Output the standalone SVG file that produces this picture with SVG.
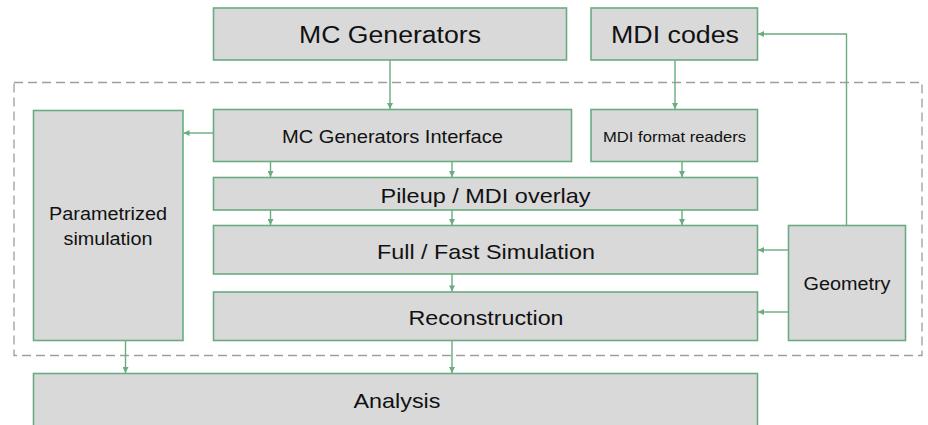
<svg xmlns="http://www.w3.org/2000/svg" width="928" height="425" viewBox="0 0 928 425">
<defs>
<marker id="ah" viewBox="0 0 10 10" refX="10" refY="5" markerWidth="7" markerHeight="6" markerUnits="userSpaceOnUse" orient="auto">
<path d="M0,0 L10,5 L0,10 z" fill="#6aab80"/>
</marker>
<style>
.box{fill:#d9d9d9;stroke:#6aab80;stroke-width:1.6}
.t{font-family:"Liberation Sans",Arial,sans-serif;fill:#111;text-anchor:middle}
.c{fill:none;stroke:#6aab80;stroke-width:1.4;marker-end:url(#ah)}
.l{fill:none;stroke:#6aab80;stroke-width:1.4}
</style>
</defs>
<rect width="928" height="425" fill="#fff"/>
<rect x="14" y="82.5" width="908" height="273" fill="none" stroke="#9e9e9e" stroke-width="1.3" stroke-dasharray="9,5"/>
<g id="mcgen"><rect class="box" x="213.5" y="8" width="353" height="52"/><text class="t" x="390" y="43" font-size="23" textLength="182" lengthAdjust="spacingAndGlyphs">MC Generators</text></g>
<g id="mdicodes"><rect class="box" x="591" y="8" width="166.5" height="52"/><text class="t" x="675" y="43" font-size="23" textLength="128" lengthAdjust="spacingAndGlyphs">MDI codes</text></g>
<g id="param"><rect class="box" x="33.5" y="110.5" width="149.5" height="230"/><text class="t" x="108" y="220" font-size="17.5" textLength="118" lengthAdjust="spacingAndGlyphs">Parametrized</text><text class="t" x="108" y="245" font-size="17.5" textLength="89" lengthAdjust="spacingAndGlyphs">simulation</text></g>
<g id="mcgi"><rect class="box" x="213.5" y="109.5" width="358" height="52"/><text class="t" x="392.5" y="142.5" font-size="18.5" textLength="221" lengthAdjust="spacingAndGlyphs">MC Generators Interface</text></g>
<g id="mdireaders"><rect class="box" x="591" y="109.5" width="166.5" height="52"/><text class="t" x="674.5" y="141.5" font-size="14.5" textLength="143" lengthAdjust="spacingAndGlyphs">MDI format readers</text></g>
<g id="pileup"><rect class="box" x="213.5" y="177.5" width="544" height="32.5"/><text class="t" x="485.5" y="202.5" font-size="21" textLength="210" lengthAdjust="spacingAndGlyphs">Pileup / MDI overlay</text></g>
<g id="fullfast"><rect class="box" x="213.5" y="225.5" width="544" height="48.5"/><text class="t" x="486" y="259" font-size="21" textLength="218" lengthAdjust="spacingAndGlyphs">Full / Fast Simulation</text></g>
<g id="reco"><rect class="box" x="213.5" y="292" width="544" height="48.5"/><text class="t" x="486" y="325" font-size="21" textLength="155" lengthAdjust="spacingAndGlyphs">Reconstruction</text></g>
<g id="geometry"><rect class="box" x="788.5" y="225.5" width="117" height="115"/><text class="t" x="847" y="290" font-size="17.5" textLength="87" lengthAdjust="spacingAndGlyphs">Geometry</text></g>
<g id="analysis"><rect class="box" x="33.5" y="373.5" width="724" height="60"/><text class="t" x="397" y="408" font-size="21" textLength="87" lengthAdjust="spacingAndGlyphs">Analysis</text></g>
<g id="connectors">
<line class="c" x1="390" y1="60" x2="390" y2="109"/>
<line class="c" x1="675" y1="60" x2="675" y2="109"/>
<line class="c" x1="213.5" y1="133" x2="183.5" y2="133"/>
<line class="c" x1="270.5" y1="161.5" x2="270.5" y2="177"/>
<line class="c" x1="452" y1="161.5" x2="452" y2="177"/>
<line class="c" x1="682" y1="161.5" x2="682" y2="177"/>
<line class="c" x1="270.5" y1="210" x2="270.5" y2="225"/>
<line class="c" x1="452" y1="210" x2="452" y2="225"/>
<line class="c" x1="682" y1="210" x2="682" y2="225"/>
<line class="c" x1="452" y1="274" x2="452" y2="291.5"/>
<line class="c" x1="788.5" y1="250" x2="758" y2="250"/>
<line class="c" x1="788.5" y1="312" x2="758" y2="312"/>
<polyline class="c" points="846.5,225.5 846.5,34 758,34"/>
<line class="c" x1="125.5" y1="340.5" x2="125.5" y2="373"/>
<line class="c" x1="452" y1="340.5" x2="452" y2="373"/>
</g>
</svg>
